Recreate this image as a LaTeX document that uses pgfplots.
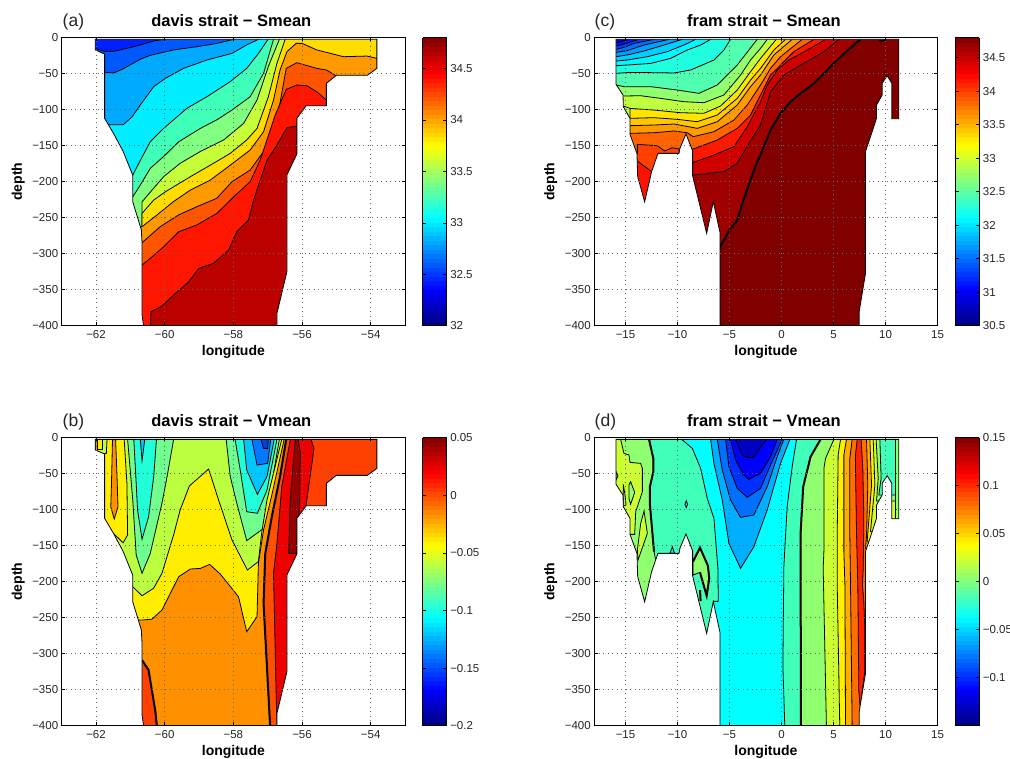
\documentclass[border=0pt]{standalone}
\usepackage{fontspec}
\setmainfont{Liberation Sans}
\usepackage{pgfplots}
\usepackage{pgfplotstable}
\pgfplotsset{compat=1.18}
\def\dc#1{\definecolor{c#1}{HTML}{#1}}
\dc{0020FF}\dc{0058FF}\dc{00AAFF}\dc{00EEFF}\dc{40FFB8}\dc{80FF80}\dc{C4FF3A}\dc{FFDD00}\dc{FF9900}\dc{FF5500}\dc{FF1500}\dc{BB0000}
\dc{BBFF40}\dc{FFEE00}\dc{FF9000}\dc{70FF8F}\dc{20FFD8}\dc{00C8FF}\dc{0078FF}\dc{0040E0}\dc{FF5000}\dc{EE0000}\dc{FF4000}\dc{990000}
\dc{0000C8}\dc{0010FF}\dc{0040FF}\dc{0070FF}\dc{00A0FF}\dc{00D0FF}\dc{00F8FF}\dc{20FFDF}\dc{50FFAF}\dc{90FF70}\dc{C0FF40}\dc{FFE600}\dc{FFC800}\dc{FF9A00}\dc{FF6400}\dc{FF1800}\dc{D00000}\dc{A00000}\dc{800000}\dc{FF1000}
\dc{CCFF33}\dc{00E8FF}\dc{00FFFF}\dc{00B0FF}\dc{0030FF}\dc{0000FF}\dc{0000C0}\dc{FFF000}\dc{FF2000}\dc{FFAE00}\dc{FF6E00}
\newcommand\band[2]{\addplot[fill=c#1,draw=black,line width=.8pt] coordinates {#2} -- cycle;}
\newcommand\thick[1]{\addplot[draw=black,line width=2pt] coordinates {#1};}
\pgfplotstableread{
x y
-64 5
-52 5
-52 -405
-56.73 -405
-56.73 -383
-56.44 -325
-56.44 -190.8
-56.15 -161.6
-56.15 -112
-55.88 -94.5
-55.29 -94.5
-55.29 -63.4
-55.0 -52.3
-54.1 -52.3
-53.82 -42.6
-53.82 -2.3
-62.02 -2.3
-62.02 -17
-61.75 -22.7
-61.75 -112
-61.49 -133
-61.21 -158
-60.93 -191
-60.93 -228
-60.68 -267
-60.66 -286
-60.66 -385
-60.6 -405
-64 -405
}\maskdavis
\pgfplotstableread{
x y
-19 5
19 5
19 -405
7.46 -405
7.46 -380.6
8.07 -327.3
8.07 -158.3
9.13 -112
9.13 -93.5
9.67 -79.6
9.67 -63.4
10.15 -52.8
10.6 -63.4
10.6 -112.5
11.27 -112.5
11.27 -2.3
-15.91 -2.3
-15.91 -64.8
-15.24 -79.6
-15.21 -95.8
-14.57 -112
-14.57 -134.3
-13.9 -160.7
-13.83 -193
-13.16 -228
-12.49 -186
-11.88 -160.7
-9.86 -160.7
-9.77 -153.7
-9.19 -133.8
-8.55 -157
-8.55 -191.7
-7.2 -271.8
-6.56 -227.8
-5.92 -270.4
-5.92 -405
-19 -405
}\maskfram
\pgfplotsset{
  panel/.style={
    scale only axis, width=343.3pt, height=288pt, anchor=south west,
    axis on top, clip=true,
    ymin=-400, ymax=0,
    ytick={-400,-350,...,0},
    yticklabels={−400,−350,−300,−250,−200,−150,−100,−50,0},
    grid=major,
    grid style={black!60,line width=.7pt,dash pattern=on 1pt off 3.5pt},
    tick align=inside, major tick length=3.4pt,
    tick style={black,line width=.6pt},
    axis line style={black,line width=.9pt},
    tick label style={font=\fontsize{11.5}{12}\selectfont,black!85},
    xticklabel style={yshift=-1.5pt},
    ylabel=depth, xlabel=longitude,
    label style={font=\fontsize{14}{15}\bfseries},
    xlabel style={at={(axis description cs:0.5,-0.105)},anchor=base},
    ylabel style={at={(axis description cs:-0.116,0.5)},anchor=base},
    title style={at={(axis description cs:0.494,1)},anchor=base,yshift=5pt,font=\fontsize{16.5}{17}\bfseries},
    colormap/jet, colorbar sampled,
  },
  cb/.style n args={4}{
    point meta min=#1, point meta max=#2,
    colorbar style={
      at={(1.0516,1)}, anchor=north west,
      width=24pt, height=288pt, samples=65,
      ytick={#3}, yticklabels={#4},
      ytick pos=both, yticklabel pos=right,
      tick align=inside, major tick length=3.4pt,
      tick style={black,line width=.6pt},
      axis line style={black,line width=.9pt},
      yticklabel style={font=\fontsize{11.5}{12}\selectfont,black!85},
    },
  },
  davis/.style={xmin=-63,xmax=-53,xtick={-62,-60,...,-54},xticklabels={−62,−60,−58,−56,−54}},
  fram/.style={xmin=-18,xmax=15,xtick={-15,-10,...,15},xticklabels={−15,−10,−5,0,5,10,15}},
}
\begin{document}
\begin{tikzpicture}[x=1pt,y=1pt]
\useasboundingbox (0,0) rectangle (1010,759);
% ---------- (a)
\begin{axis}[panel,davis,at={(61.7pt,433.3pt)},title={davis strait − Smean},
  cb={32}{34.8}{32,32.5,33,33.5,34,34.5}{32,32.5,33,33.5,34,34.5}]
\band{0020FF}{(-64,5)(-52,5)(-52,-405)(-64,-405)}
\band{0058FF}{(-64,-15)(-62.02,-15)(-61.75,-19)(-61.49,-19)(-60.90,-12.5)(-60.27,-4)(-59.98,-2.3)(-59.98,5)(-52,5)(-52,-405)(-64,-405)}
\band{00AAFF}{(-64,-48)(-61.75,-48)(-61.49,-49)(-61.24,-44)(-60.71,-30)(-60.42,-24.5)(-59.74,-17)(-59.06,-12.5)(-58.48,-8)(-57.99,-2.3)(-57.99,5)(-52,5)(-52,-405)(-64,-405)}
\band{00EEFF}{(-64,-121)(-61.49,-121)(-61.21,-121)(-60.95,-110)(-60.71,-93.5)(-60.32,-68)(-59.98,-56.5)(-59.45,-42.6)(-58.77,-31)(-58.04,-21.8)(-57.61,-10)(-57.27,-2.3)(-57.27,5)(-52,5)(-52,-405)(-64,-405)}
\band{40FFB8}{(-64,-191)(-60.93,-191)(-60.76,-175)(-60.42,-144.5)(-60.03,-126)(-59.35,-98)(-58.77,-82)(-58.09,-61)(-57.61,-42.6)(-57.27,-22)(-56.99,-2.3)(-56.99,5)(-52,5)(-52,-405)(-64,-405)}
\band{80FF80}{(-64,-221)(-60.93,-221)(-60.71,-204.6)(-60.42,-181.5)(-60.03,-165)(-59.59,-144.5)(-58.96,-126)(-58.48,-114)(-58.04,-100.5)(-57.51,-82)(-57.12,-49.5)(-56.83,-2.3)(-56.83,5)(-52,5)(-52,-405)(-64,-405)}
\band{C4FF3A}{(-60.66,-270)(-60.66,-228)(-60.32,-209)(-60.03,-193)(-59.55,-174.5)(-58.96,-158)(-58.28,-142)(-57.70,-119)(-57.31,-86.6)(-56.98,-40)(-56.66,-2.3)(-56.66,5)(-52,5)(-52,-405)(-60.66,-405)}
\band{FFDD00}{(-60.66,-270)(-60.66,-244)(-60.32,-225.5)(-59.98,-214)(-59.25,-193)(-58.58,-174.5)(-58.09,-160.7)(-57.61,-142)(-57.31,-126)(-56.98,-82)(-56.73,-35.6)(-56.49,-2.3)(-56.49,5)(-52,5)(-52,-405)(-60.66,-405)}
\band{FF9900}{(-64,-262.5)(-60.66,-262.5)(-60.22,-246)(-59.74,-227.5)(-59.25,-211.6)(-58.67,-197.7)(-58.09,-177)(-57.51,-156)(-57.12,-130.6)(-56.83,-86.6)(-56.64,-45)(-56.44,-19.4)(-56.17,-7.9)(-56.0,-7.9)(-55.57,-17)(-54.79,-26.4)(-54.11,-25.5)(-53.82,-28.7)(-52,-28.7)(-52,-405)(-64,-405)}
\band{FF5500}{(-64,-284.7)(-60.66,-284.7)(-60.13,-262.5)(-59.59,-246)(-59.06,-234.7)(-58.48,-223)(-58.04,-200)(-57.51,-183.8)(-57.02,-151.4)(-56.73,-114.4)(-56.46,-42.6)(-56.15,-34.7)(-55.57,-42.6)(-55.28,-45)(-55.0,-53.2)(-52,-405)(-64,-405)}
\band{FF1500}{(-64,-315.8)(-60.66,-315.8)(-60.42,-306.5)(-60.03,-290.3)(-59.59,-269.5)(-59.06,-260)(-58.48,-244)(-57.99,-221)(-57.51,-200)(-57.22,-170)(-56.78,-107.4)(-56.46,-71.8)(-56.15,-65.7)(-55.86,-66.7)(-55.57,-75)(-55.29,-86.6)(-52,-405)(-64,-405)}
\band{BB0000}{(-60.42,-405)(-60.40,-380.6)(-60.08,-372.7)(-59.74,-357.4)(-59.30,-339)(-59.01,-320.4)(-58.58,-313.4)(-58.14,-295)(-57.90,-269.5)(-57.56,-253.3)(-57.41,-225.5)(-57.02,-170)(-56.73,-149)(-56.44,-125)(-56.15,-122.7)(-52,-122.7)(-52,-405)}
\addplot[fill=white,draw=black,line width=.8pt] table {\maskdavis} -- cycle;
\end{axis}
% ---------- (b)
\begin{axis}[panel,davis,at={(61.7pt,33.3pt)},title={davis strait − Vmean},
  cb={-0.2}{0.05}{-0.2,-0.15,-0.1,-0.05,0,0.05}{−0.2,−0.15,−0.1,−0.05,0,0.05}]
\band{BBFF40}{(-64,5)(-52,5)(-52,-405)(-64,-405)}
\band{FFEE00}{(-61.68,5)(-61.68,-2.3)(-61.70,-22)(-63,-22)(-63,-133)(-61.49,-133)(-61.21,-146)(-61.08,-135)(-61.10,-63.4)(-61.18,-2.3)(-61.18,5)}
\band{FF9000}{(-61.52,5)(-61.52,-2.3)(-61.55,-63.4)(-61.57,-96)(-61.47,-113)(-61.36,-96)(-61.39,-52)(-61.43,-2.3)(-61.43,5)}
\band{FF9000}{(-62.02,5)(-62.02,-17)(-61.96,-17)(-61.96,5)}
\band{FFEE00}{(-61.96,5)(-61.96,-16)(-61.81,-16)(-61.81,5)}
\band{70FF8F}{(-61.08,5)(-61.08,-2.3)(-60.93,-86.6)(-60.83,-163)(-60.66,-188.4)(-60.42,-160.7)(-60.08,-91)(-59.93,-54)(-59.74,-2.3)(-59.74,5)}
\band{20FFD8}{(-60.90,5)(-60.90,-2.3)(-60.83,-63.4)(-60.79,-100.5)(-60.66,-141)(-60.47,-110)(-60.32,-54)(-60.24,-2.3)(-60.24,5)}
\band{00C8FF}{(-60.71,5)(-60.71,-2.3)(-60.66,-32)(-60.58,-2.3)(-60.58,5)}
\band{70FF8F}{(-58.21,5)(-58.21,-2.3)(-58.09,-54)(-57.90,-91)(-57.61,-143)(-57.12,-126)(-56.88,-63.4)(-56.66,-2.3)(-56.66,5)}
\band{20FFD8}{(-57.95,5)(-57.95,-2.3)(-57.80,-45)(-57.61,-102.8)(-57.30,-105)(-57.02,-72.7)(-56.73,-2.3)(-56.73,5)}
\band{00C8FF}{(-57.70,5)(-57.70,-2.3)(-57.61,-45)(-57.30,-78.7)(-57.02,-54)(-56.81,-2.3)(-56.81,5)}
\band{0078FF}{(-57.46,5)(-57.46,-2.3)(-57.31,-38)(-57.0,-35.6)(-56.91,-2.3)(-56.91,5)}
\band{0040E0}{(-57.20,5)(-57.20,-2.3)(-57.12,-14.8)(-57.0,-14.8)(-56.98,-2.3)(-56.98,5)}
\band{FFEE00}{(-64,-207)(-60.93,-207)(-60.66,-219.5)(-60.32,-209)(-60.08,-188.4)(-59.74,-135)(-59.55,-100.5)(-59.28,-67)(-58.72,-43.5)(-58.43,-86.6)(-58.04,-142)(-57.59,-183.8)(-57.27,-172)(-57.17,-130.6)(-57.02,-86.6)(-56.59,-2.3)(-56.59,5)(-52,5)(-52,-405)(-64,-405)}
\band{FF9000}{(-64,-253.3)(-60.66,-253.3)(-60.37,-252)(-60.08,-239.4)(-59.59,-193)(-59.25,-182.4)(-58.96,-181.5)(-58.69,-176)(-58.38,-189.4)(-57.85,-220.9)(-57.61,-269.5)(-57.31,-248.6)(-57.27,-174.6)(-57.12,-128)(-56.88,-79.6)(-56.52,-2.3)(-56.52,5)(-52,5)(-52,-405)(-64,-405)}
\band{FF5000}{(-56.93,-405)(-56.93,-400)(-57.12,-230)(-57.07,-160.7)(-56.88,-109.7)(-56.64,-54)(-56.46,-2.3)(-56.46,5)(-52,5)(-52,-405)}
\band{EE0000}{(-56.73,-405)(-56.83,-188.4)(-56.73,-146.8)(-56.59,-68)(-56.34,-2.3)(-56.34,5)(-52,5)(-52,-405)}
\band{FF4000}{(-55.74,5)(-55.74,-2.3)(-55.65,-14.8)(-55.88,-93.5)(-55.88,-140)(-52,-140)(-52,5)}
\band{990000}{(-56.22,5)(-56.20,-2.3)(-56.34,-84.4)(-56.39,-160.7)(-56.15,-160.7)(-56.07,-88.4)(-56.05,-19)(-56.12,-2.3)(-56.12,5)}
\band{FF4000}{(-64,-308.8)(-60.66,-308.8)(-60.47,-322.7)(-60.27,-380.6)(-60.22,-400)(-60.22,-405)(-64,-405)}
\thick{(-60.66,-308.8)(-60.47,-322.7)(-60.27,-380.6)(-60.22,-405)}
\thick{(-56.93,-405)(-56.93,-400)(-57.12,-230)(-57.07,-160.7)(-56.88,-109.7)(-56.64,-54)(-56.46,-2.3)}
\addplot[fill=white,draw=black,line width=.8pt] table {\maskdavis} -- cycle;
\end{axis}
% ---------- (c)
\begin{axis}[panel,fram,at={(594.3pt,433.3pt)},title={fram strait − Smean},
  cb={30.5}{34.8}{30.5,31,31.5,32,32.5,33,33.5,34,34.5}{30.5,31,31.5,32,32.5,33,33.5,34,34.5}]
\band{0000C8}{(-19,5)(19,5)(19,-405)(-19,-405)}
\band{0010FF}{(-19,-7)(-15.91,-7)(-15.47,-5.6)(-14.83,-2.3)(-14.83,5)(19,5)(19,-405)(-19,-405)}
\band{0040FF}{(-19,-11.6)(-15.91,-11.6)(-15.15,-8.8)(-13.70,-2.3)(-13.70,5)(19,5)(19,-405)(-19,-405)}
\band{0070FF}{(-19,-16.2)(-15.91,-16.2)(-15.15,-13.4)(-14.19,-7.9)(-12.26,-2.3)(-12.26,5)(19,5)(19,-405)(-19,-405)}
\band{00A0FF}{(-19,-20.4)(-15.91,-20.4)(-14.83,-18)(-13.22,-10.2)(-10.82,-2.3)(-10.82,5)(19,5)(19,-405)(-19,-405)}
\band{00D0FF}{(-19,-26.4)(-15.91,-26.4)(-14.83,-24)(-13.22,-18.5)(-11.30,-10.2)(-9.54,-2.3)(-9.54,5)(19,5)(19,-405)(-19,-405)}
\band{00F8FF}{(-19,-32.4)(-15.91,-32.4)(-14.83,-31)(-12.90,-26.4)(-10.98,-19.4)(-9.38,-10.2)(-8.26,-2.3)(-8.26,5)(19,5)(19,-405)(-19,-405)}
\band{20FFDF}{(-19,-38.9)(-15.91,-38.9)(-14.83,-38)(-12.58,-35.7)(-10.66,-28.7)(-9.06,-17.1)(-7.78,-10.2)(-6.82,-2.3)(-6.82,5)(19,5)(19,-405)(-19,-405)}
\band{50FFAF}{(-19,-49.5)(-15.91,-49.5)(-14.51,-48.2)(-12.26,-48.6)(-10.34,-49)(-8.74,-44.9)(-6.50,-31)(-5.54,-17.1)(-4.90,-2.3)(-4.90,5)(19,5)(19,-405)(-19,-405)}
\band{90FF70}{(-19,-65.7)(-15.91,-65.7)(-15.15,-68)(-12.58,-68)(-10.02,-72.7)(-7.94,-77.3)(-6.18,-65.7)(-4.26,-38)(-2.34,-2.3)(-2.34,5)(19,5)(19,-405)(-19,-405)}
\band{C0FF40}{(-19,-81)(-15.21,-81)(-13.54,-80.6)(-11.62,-84.3)(-9.38,-88.9)(-7.46,-90.3)(-5.54,-79.6)(-3.94,-51.9)(-2.98,-31)(-2.02,-14.8)(-1.38,-2.3)(-1.38,5)(19,5)(19,-405)(-19,-405)}
\band{FFE600}{(-14.57,-115)(-14.57,-98.2)(-12.26,-100.5)(-9.70,-104.2)(-7.46,-105)(-5.86,-94.9)(-4.26,-72.7)(-2.98,-47.2)(-2.02,-28.7)(-0.51,-2.3)(-0.51,5)(19,5)(19,-405)(-19,-405)}
\addplot[draw=black,line width=.8pt] coordinates {(-15.21,-94.9)(-14.57,-98.2)};
\band{FFC800}{(-19,-112)(-14.57,-112)(-12.26,-111.1)(-10.02,-113.4)(-8.10,-116.7)(-6.18,-107.4)(-4.26,-84.3)(-2.98,-58.8)(-2.02,-42.6)(-0.74,-17.1)(0.38,-2.3)(0.38,5)(19,5)(19,-405)(-19,-405)}
\band{FF9A00}{(-19,-122.2)(-14.57,-122.2)(-12.26,-121.3)(-10.34,-119.9)(-8.10,-125.9)(-6.18,-116.7)(-4.26,-93.5)(-2.98,-68)(-2.02,-51.9)(-0.74,-24)(1.02,-2.3)(1.02,5)(19,5)(19,-405)(-19,-405)}
\band{FF6400}{(-19,-132.9)(-14.57,-132.9)(-12.26,-132)(-10.34,-129.6)(-9.06,-132)(-8.49,-137.5)(-6.50,-130.6)(-4.58,-114.4)(-3.30,-93.5)(-2.02,-65.7)(-1.06,-42.6)(-0.10,-26.4)(1.99,-2.3)(1.99,5)(19,5)(19,-405)(-19,-405)}
\band{FF1800}{(-8.74,-405)(-8.74,-154.6)(-8.49,-154.6)(-6.18,-142.1)(-4.26,-125.9)(-2.98,-107.4)(-2.02,-79.6)(-1.06,-51.9)(-0.10,-38)(1.18,-19.4)(3.11,-2.3)(3.11,5)(19,5)(19,-405)}
\band{D00000}{(-8.74,-405)(-8.74,-173.2)(-8.49,-173.2)(-6.50,-163)(-4.58,-151.4)(-3.30,-123.6)(-2.02,-88.9)(-1.38,-65.7)(-0.42,-44.9)(0.70,-31)(2.47,-17.1)(4.23,-2.3)(4.23,5)(19,5)(19,-405)}
\band{A00000}{(-8.74,-405)(-8.74,-190.8)(-8.49,-190.8)(-5.54,-186)(-4.26,-174.5)(-3.14,-146.8)(-2.02,-121.3)(-1.06,-75)(0.22,-51.9)(1.83,-38)(4.07,-19.4)(5.51,-2.3)(5.51,5)(19,5)(19,-405)}
\band{800000}{(-5.92,-405)(-5.92,-291.2)(-5.06,-268.1)(-4.26,-253.3)(-3.78,-230.1)(-2.66,-183.8)(-1.06,-128.3)(-0.10,-105)(0.86,-88.9)(1.83,-77.3)(3.11,-63.4)(4.39,-44.9)(5.67,-26.4)(7.11,-7.9)(7.59,-2.3)(7.59,5)(19,5)(19,-405)}
\thick{(-5.92,-291.2)(-5.06,-268.1)(-4.26,-253.3)(-3.78,-230.1)(-2.66,-183.8)(-1.06,-128.3)(-0.10,-105)(0.86,-88.9)(1.83,-77.3)(3.11,-63.4)(4.39,-44.9)(5.67,-26.4)(7.11,-7.9)(7.59,-2.3)}
\thick{(9.35,-2.3)(9.67,-4.6)(9.99,-2.3)}
\band{FF4000}{(-19,-162)(-13.86,-162)(-13.86,-148.2)(-11.94,-150)(-11.24,-157.4)(-10.50,-152.8)(-9.86,-154.6)(-9.70,-170)(-19,-405)}
\band{FF1000}{(-19,-172)(-13.86,-171.3)(-12.49,-186)(-12,-240)(-19,-240)}
\addplot[fill=white,draw=black,line width=.8pt] table {\maskfram} -- cycle;
\end{axis}
% ---------- (d)
\begin{axis}[panel,fram,at={(594.3pt,33.3pt)},title={fram strait − Vmean},
  cb={-0.15}{0.15}{-0.1,-0.05,0,0.05,0.1,0.15}{−0.1,−0.05,0,0.05,0.1,0.15}]
\band{40FFB8}{(-19,5)(19,5)(19,-405)(-19,-405)}
\band{90FF70}{(-19,5)(-12.74,5)(-12.74,-2.3)(-12.33,-28.7)(-12.33,-47.2)(-12.65,-68)(-12.65,-93.5)(-12.26,-158.3)(-12.10,-170)(-12.10,-405)(-19,-405)}
\thick{(-12.74,-2.3)(-12.33,-28.7)(-12.33,-47.2)(-12.65,-68)(-12.65,-93.5)(-12.26,-158.3)}
\band{CCFF33}{(-19,5)(-15.47,5)(-15.47,-2.3)(-15.15,-21.8)(-14.67,-24)(-14.57,-34.3)(-13.54,-35.7)(-13.38,-42.6)(-13.38,-75)(-14.02,-102.8)(-14.12,-134.3)(-14.57,-134.3)(-19,-134.3)}
\band{90FF70}{(-14.51,-61.1)(-14.12,-75.9)(-14.51,-92.6)(-14.67,-84.3)(-14.67,-65.7)}
\band{90FF70}{(-15.21,-64.8)(-15.05,-79.6)(-14.95,-93.5)(-15.21,-94.9)}
\band{90FF70}{(-15.91,-47.2)(-15.72,-53.2)(-15.91,-58.8)}
\band{CCFF33}{(-13.22,-101.9)(-12.90,-132.9)(-13.80,-170)(-13.86,-156)(-13.54,-119)}
\band{00E8FF}{(-9.16,-87.5)(-9.03,-92.6)(-9.16,-97.2)(-9.29,-92.6)}
\band{00E8FF}{(-10.73,-160.7)(-10.50,-151.4)(-10.28,-160.7)}
\band{00FFFF}{(-9.61,5)(-9.61,-2.3)(-8.58,-14.8)(-7.78,-42.6)(-7.14,-84.3)(-6.50,-112)(-6.12,-181.5)(-6.08,-227.3)(-6.56,-227.3)(-6.34,-405)(0.32,-405)(0.13,-318)(0.22,-179)(0.54,-95.8)(1.02,-40.3)(1.44,-2.3)(1.44,5)}
\band{00B0FF}{(-6.82,5)(-6.82,-2.3)(-6.50,-35.7)(-5.70,-86.6)(-5.06,-146.8)(-3.94,-181.5)(-2.66,-151.4)(-1.38,-100.5)(-0.10,-35.7)(0.80,-2.3)(0.80,5)}
\band{0070FF}{(-6.18,5)(-6.18,-2.3)(-5.70,-44.9)(-4.90,-86.6)(-3.94,-110.7)(-2.66,-107.4)(-1.38,-68)(-0.42,-26.4)(0.22,-2.3)(0.22,5)}
\band{0030FF}{(-5.38,5)(-5.38,-2.3)(-5.06,-40.3)(-4.26,-70.4)(-3.30,-82.9)(-2.02,-70.4)(-1.06,-38)(0.06,-2.3)(0.06,5)}
\band{0000FF}{(-4.90,5)(-4.90,-2.3)(-4.42,-31)(-3.62,-51.9)(-3.14,-57.9)(-2.02,-49.5)(-1.06,-26.4)(-0.42,-2.3)(-0.42,5)}
\band{0000C0}{(-4.42,5)(-4.42,-2.3)(-3.78,-24)(-3.30,-27.3)(-2.66,-27.3)(-1.86,-10.2)(-1.38,-2.3)(-1.38,5)}
\band{90FF70}{(1.92,-405)(1.86,-400)(1.83,-132.9)(2.08,-68)(2.79,-26.4)(3.75,-2.3)(3.75,5)(19,5)(19,-405)}
\thick{(1.92,-405)(1.86,-400)(1.83,-132.9)(2.08,-68)(2.79,-26.4)(3.75,-2.3)}
\band{CCFF33}{(4.32,-405)(4.0,-181)(4.07,-158)(4.07,-42.6)(4.23,-28.7)(5.03,-2.3)(5.03,5)(19,5)(19,-405)}
\band{FFF000}{(5.60,-405)(5.35,-204.6)(5.35,-135)(5.44,-24)(5.67,-2.3)(5.67,5)(19,5)(19,-405)}
\band{FFAE00}{(6.15,-405)(6.09,-204.6)(5.99,-158)(5.99,-24)(6.24,-2.3)(6.24,5)(19,5)(19,-405)}
\band{FF6E00}{(6.79,-405)(6.63,-204.6)(6.56,-135)(6.56,-28.7)(6.79,-2.3)(6.79,5)(19,5)(19,-405)}
\band{FF2000}{(7.27,5)(7.27,-2.3)(7.11,-24)(7.11,-42.6)(7.21,-135)(7.33,-204.6)(7.38,-274)(7.43,-352.8)(7.59,-380.5)(7.75,-352.8)(8.0,-325)(8.0,-264.8)(7.91,-227.7)(7.78,-204.6)(7.85,-181)(7.91,-112)(7.81,-42.6)(7.65,-2.3)(7.65,5)}
\band{FFAE00}{(8.17,5)(8.17,-2.3)(8.29,-65.7)(8.17,-135)(8.07,-153.7)(19,-153.7)(19,5)}
\band{FFF000}{(8.49,5)(8.49,-2.3)(8.65,-65.7)(8.23,-144.4)(19,-144.4)(19,5)}
\band{CCFF33}{(8.81,5)(8.81,-2.3)(8.97,-65.7)(8.55,-130.5)(19,-130.5)(19,5)}
\band{90FF70}{(9.09,5)(9.09,-2.3)(9.29,-56.4)(9.13,-88)(19,-88)(19,5)}
\band{40FFB8}{(9.45,5)(9.45,-2.3)(9.57,-56.4)(9.35,-79.6)(19,-79.6)(19,5)}
\band{90FF70}{(10.92,5)(10.92,-2.3)(10.92,-115)(19,-115)(19,5)}
\band{90FF70}{(-8.52,-172.2)(-7.84,-152.8)(-7.08,-177.8)(-6.95,-195.4)(-7.20,-219.5)(-7.84,-187)(-8.52,-190.8)}
\thick{(-8.52,-172.2)(-7.84,-152.8)(-7.08,-177.8)(-6.95,-195.4)(-7.20,-219.5)(-7.84,-187)}
\thick{(-7.84,-211.6)(-7.78,-226.9)}
\addplot[fill=white,draw=black,line width=.8pt] table {\maskfram} -- cycle;
\end{axis}
\node[inner sep=0pt,anchor=base west,font=\fontsize{17.5}{18}\selectfont,black!85] at (62.5,732) {(a)};
\node[inner sep=0pt,anchor=base west,font=\fontsize{17.5}{18}\selectfont,black!85] at (62.5,332) {(b)};
\node[inner sep=0pt,anchor=base west,font=\fontsize{17.5}{18}\selectfont,black!85] at (594.5,732) {(c)};
\node[inner sep=0pt,anchor=base west,font=\fontsize{17.5}{18}\selectfont,black!85] at (594.5,332) {(d)};
\end{tikzpicture}
\end{document}
